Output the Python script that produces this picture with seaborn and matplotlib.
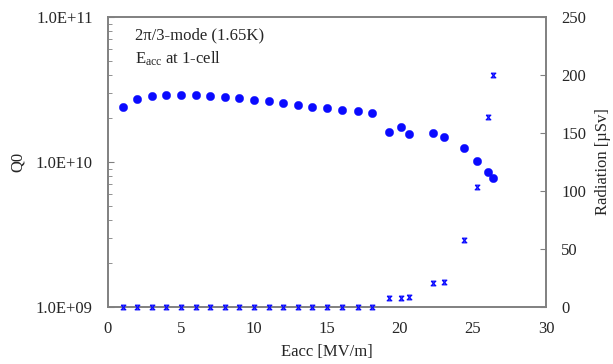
import matplotlib
matplotlib.use("Agg")
import matplotlib.pyplot as plt
import matplotlib.ticker as mticker
import seaborn as sns
import pandas as pd

# Q0 vs Eacc (2pi/3 mode, 1.65K)
eacc_q0 = [1, 2, 3, 4, 5, 6, 7, 8, 9, 10, 11, 12, 13, 14, 15, 16, 17.1, 18.05,
           19.25, 20.1, 20.6, 22.25, 23.0, 24.4, 25.3, 26.05, 26.35]
q0 = [2.41e10, 2.73e10, 2.87e10, 2.91e10, 2.91e10, 2.91e10, 2.85e10, 2.81e10,
      2.75e10, 2.69e10, 2.62e10, 2.54e10, 2.49e10, 2.41e10, 2.36e10, 2.28e10,
      2.24e10, 2.17e10, 1.62e10, 1.74e10, 1.56e10, 1.59e10, 1.49e10, 1.25e10,
      1.02e10, 8.5e9, 7.8e9]

# radiation vs Eacc
eacc_rad = eacc_q0
radiation = [0, 0, 0, 0, 0, 0, 0, 0, 0, 0, 0, 0, 0, 0, 0, 0, 0, 0,
             8, 8, 8.3, 21, 21.8, 57.5, 103.7, 164, 200]

df_q = pd.DataFrame({"Eacc": eacc_q0, "Q0": q0})
df_r = pd.DataFrame({"Eacc": eacc_rad, "Radiation": radiation})

sns.set_style("white")
plt.rcParams["font.family"] = ["Liberation Serif", "DejaVu Serif"]
plt.rcParams["mathtext.fontset"] = "custom"
plt.rcParams["mathtext.rm"] = "Liberation Serif"
plt.rcParams["mathtext.it"] = "Liberation Serif:italic"

blue = "#0a0aff"
grey = "#808080"

fig = plt.figure(figsize=(6.13, 3.64), dpi=100)
ax = fig.add_axes([108 / 613, 1 - 307 / 364, 438 / 613, 290 / 364])

sns.scatterplot(data=df_q, x="Eacc", y="Q0", ax=ax, color=blue, s=36,
                edgecolor=blue, linewidth=0.3, zorder=3)
ax.set_yscale("log")
ax.set_ylim(1e9, 1e11)
ax.set_xlim(0, 30)
ax.set_xticks(range(0, 31, 5))
ax.yaxis.set_major_locator(mticker.FixedLocator([1e9, 1e10, 1e11]))
ax.yaxis.set_major_formatter(mticker.FixedFormatter(["1.0E+09", "1.0E+10", "1.0E+11"]))
ax.yaxis.set_minor_locator(mticker.LogLocator(base=10, subs=range(2, 10)))
ax.yaxis.set_minor_formatter(mticker.NullFormatter())
ax.tick_params(axis="both", which="both", direction="in", color=grey, labelsize=12)
ax.tick_params(axis="y", which="major", length=4, pad=11)
ax.tick_params(axis="y", which="minor", length=3)
ax.tick_params(axis="x", which="major", length=4, top=False, pad=10)
ax.set_xlabel("Eacc [MV/m]", fontsize=12, labelpad=5)
ax.set_ylabel("Q0", fontsize=12, labelpad=7)

ax.text(0.062, 0.935, "2π/3-mode (1.65K)", transform=ax.transAxes,
        fontsize=12, va="center", ha="left")
ax.text(0.062, 0.855, r"$\mathregular{E_{acc}}$ at 1-cell", transform=ax.transAxes,
        fontsize=12, va="center", ha="left")

ax2 = ax.twinx()
hourglass = [(-1, 1), (1, 1), (-1, -1), (1, -1), (-1, 1)]
sns.scatterplot(data=df_r, x="Eacc", y="Radiation", ax=ax2, marker=hourglass,
                s=11, color="#b8b8ff", edgecolor=blue, linewidth=0.9,
                clip_on=False, zorder=4)
ax2.set_ylim(0, 250)
ax2.set_yticks(range(0, 251, 50))
ax2.tick_params(axis="y", direction="in", length=4, color=grey, labelsize=12, pad=11)
ax2.set_ylabel("Radiation [µSv]", fontsize=12, labelpad=6)

for a in (ax, ax2):
    for sp in a.spines.values():
        sp.set_color(grey)
        sp.set_linewidth(1.2)

fig.savefig("out.png", dpi=100)
